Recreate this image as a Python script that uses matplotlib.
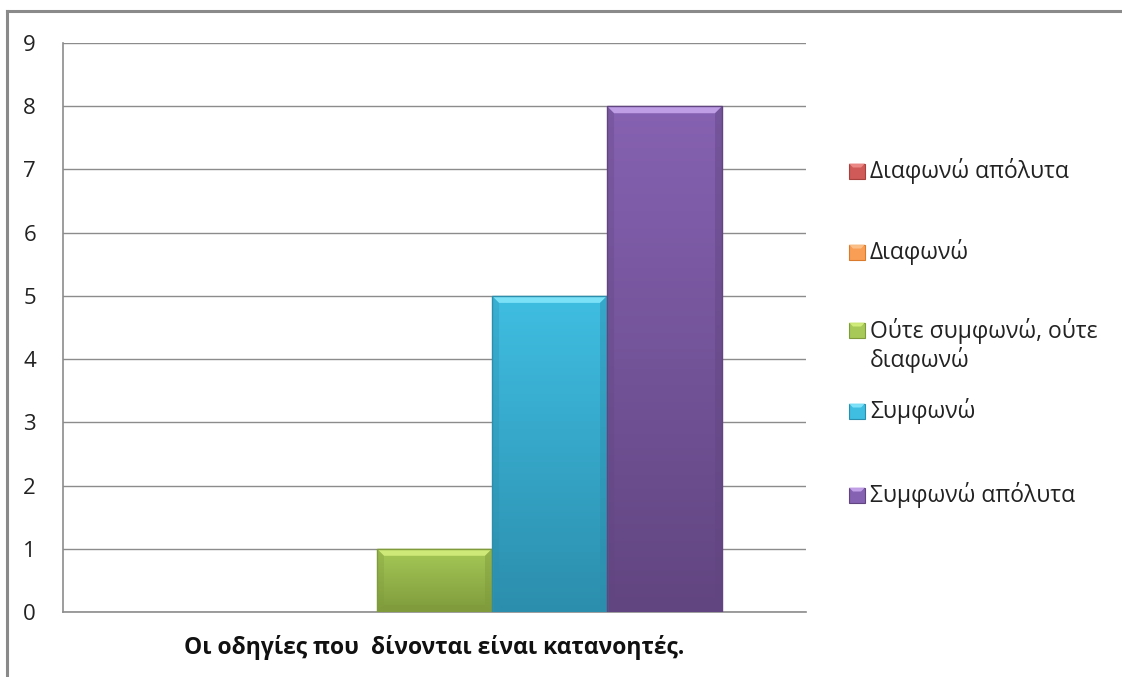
import numpy as np
import matplotlib
matplotlib.use("Agg")
import matplotlib.pyplot as plt
from matplotlib.patches import Polygon, Rectangle
from matplotlib.lines import Line2D
from matplotlib.colors import to_rgb

plt.rcParams['font.family'] = ['Open Sans', 'Noto Sans', 'DejaVu Sans']

# Survey responses for a single statement
category = "Οι οδηγίες που  δίνονται είναι κατανοητές."
series = ["Διαφωνώ απόλυτα", "Διαφωνώ", "Ούτε συμφωνώ, ούτε\nδιαφωνώ", "Συμφωνώ", "Συμφωνώ απόλυτα"]
values = [0, 0, 1, 5, 8]
yticks = list(range(0, 10))

# (top, bottom, highlight) colours per series
palette = [
    ("#cf5a57", "#a8403d", "#f08f8c"),
    ("#f99e55", "#d97a2c", "#fcc48f"),
    ("#a6c957", "#7f9b3c", "#d6f07e"),
    ("#3fbee2", "#2c8ead", "#86e8fc"),
    ("#8662b2", "#614580", "#caa9f0"),
]

W, H = 1122, 677
fig = plt.figure(figsize=(W / 100, H / 100), dpi=100)
fig.patch.set_facecolor("white")

ax = fig.add_axes([63 / W, 1 - 612 / H, (806 - 63) / W, (612 - 43) / H])
ax.set_xlim(-1.23, 5.23)
ax.set_ylim(0, 9)
ax.set_yticks(yticks)
ax.set_yticklabels([str(t) for t in yticks], fontsize=16, color="#222222")
ax.tick_params(axis="y", length=0, pad=24)
ax.tick_params(axis="x", length=0)
ax.set_xticks([])
for side in ["top", "right"]:
    ax.spines[side].set_visible(False)
for side in ["left", "bottom"]:
    ax.spines[side].set_color("#8c8c8c")
    ax.spines[side].set_linewidth(1.2)
ax.grid(axis="y", color="#8c8c8c", linewidth=1.0)
ax.set_axisbelow(True)
for lbl in ax.get_yticklabels():
    lbl.set_horizontalalignment("center")

xpos = np.arange(len(values))
bars = ax.bar(xpos, values, width=1.0, color=[p[0] for p in palette], linewidth=0, zorder=2)

# pixel -> data scale factors
px_x = (ax.get_xlim()[1] - ax.get_xlim()[0]) / (806 - 63)
px_y = (ax.get_ylim()[1] - ax.get_ylim()[0]) / (612 - 43)
bev = 7

for bar, (ctop, cbot, chi) in zip(bars, palette):
    h = bar.get_height()
    if h <= 0:
        continue
    x0 = bar.get_x()
    x1 = x0 + bar.get_width()
    # vertical gradient body
    t = np.linspace(0, 1, 256)[:, None]
    a, b = np.array(to_rgb(ctop)), np.array(to_rgb(cbot))
    grad = a[None, None, :] * (1 - t[..., None]) + b[None, None, :] * t[..., None]
    grad = np.repeat(grad, 2, axis=1)
    im = ax.imshow(grad, extent=[x0, x1, 0, h], aspect="auto", zorder=3,
                   interpolation="bilinear")
    im.set_clip_path(bar)
    dx, dy = bev * px_x, bev * px_y
    # top bevel highlight
    ax.add_patch(Polygon([[x0, h], [x1, h], [x1 - dx, h - dy], [x0 + dx, h - dy]],
                         closed=True, facecolor=chi, edgecolor="none", alpha=0.85, zorder=4))
    # side bevels
    ax.add_patch(Polygon([[x0, h], [x0 + dx, h - dy], [x0 + dx, dy], [x0, 0]],
                         closed=True, facecolor=cbot, edgecolor="none", alpha=0.3, zorder=4))
    ax.add_patch(Polygon([[x1, h], [x1 - dx, h - dy], [x1 - dx, dy], [x1, 0]],
                         closed=True, facecolor=cbot, edgecolor="none", alpha=0.45, zorder=4))
    # bottom bevel
    ax.add_patch(Polygon([[x0, 0], [x1, 0], [x1 - dx, dy], [x0 + dx, dy]],
                         closed=True, facecolor=cbot, edgecolor="none", alpha=0.8, zorder=4))
    # outline
    ax.add_patch(Rectangle((x0, 0), x1 - x0, h, facecolor="none",
                           edgecolor=cbot, linewidth=1.0, zorder=5))

# category label
fig.text((63 + 806) / 2 / W, 1 - 647 / H, category, ha="center", va="center",
         fontsize=16.5, fontweight="bold", color="#111111")

# legend entries: square marker with a small bevel, then the series name
leg_y = [171, 252, 330, 411, 495]
for name, (ctop, cbot, chi), y in zip(series, palette, leg_y):
    sx0, sx1 = 849 / W, 865 / W
    sy0, sy1 = 1 - (y + 7.5) / H, 1 - (y - 7.5) / H
    fig.patches.append(Rectangle((sx0, sy0), sx1 - sx0, sy1 - sy0, transform=fig.transFigure,
                                 facecolor=ctop, edgecolor=cbot, linewidth=0.8))
    bx, by = 4 / W, 4 / H
    fig.patches.append(Polygon([[sx0, sy1], [sx1, sy1], [sx1 - bx, sy1 - by], [sx0 + bx, sy1 - by]],
                               closed=True, transform=fig.transFigure,
                               facecolor=chi, edgecolor="none", alpha=0.9))
    if "\n" in name:
        fig.text(870 / W, 1 - (y - 12) / H, name, ha="left", va="top",
                 fontsize=16.5, color="#222222", linespacing=1.15)
    else:
        fig.text(870 / W, 1 - y / H, name, ha="left", va="center",
                 fontsize=16.5, color="#222222")

# outer chart frame (top and left edges)
fig.add_artist(Line2D([7 / W, 1], [1 - 11 / H, 1 - 11 / H], color="#8a8a8a", linewidth=2.2))
fig.add_artist(Line2D([7 / W, 7 / W], [0, 1 - 11 / H], color="#8a8a8a", linewidth=2.2))

fig.savefig("out.png", dpi=100, facecolor="white")
